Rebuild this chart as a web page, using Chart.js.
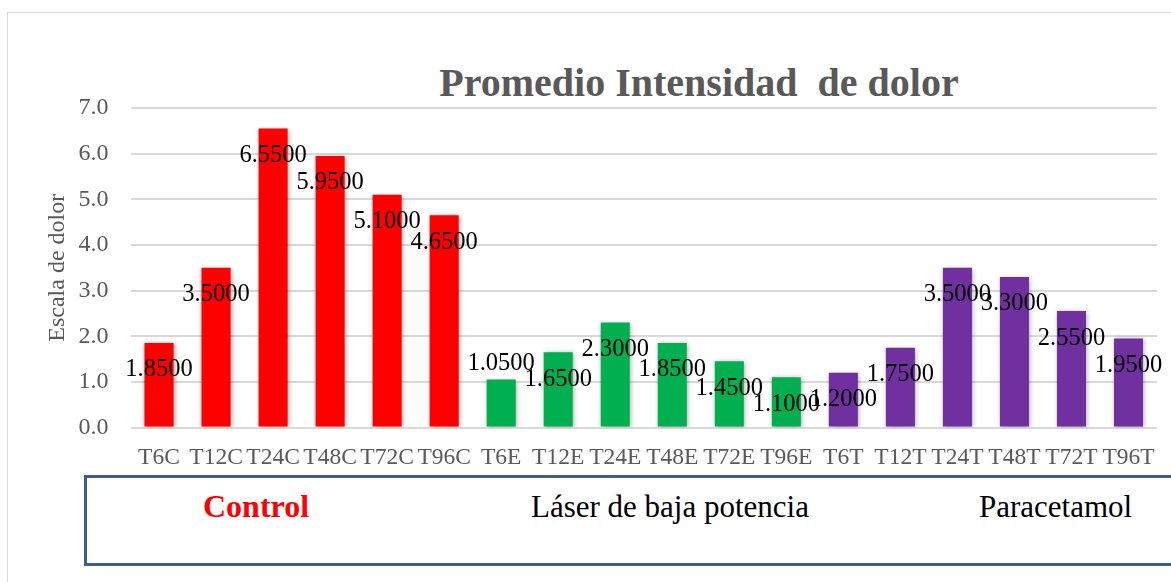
<!DOCTYPE html>
<html lang="es">
<head>
<meta charset="utf-8">
<title>Promedio Intensidad de dolor</title>
<script src="https://cdn.jsdelivr.net/npm/chart.js@4.4.1/dist/chart.umd.min.js"></script>
<style>
  html, body { margin: 0; padding: 0; background: #fff; width: 1171px; height: 582px; overflow: hidden; }
  body { position: relative; font-family: "Liberation Serif", serif; }
  #frame { position: absolute; left: 7px; top: 12px; width: 1170px; height: 600px; border: 1px solid #d9d9d9; box-sizing: border-box; }
  #wrap { position: absolute; left: 0; top: 0; width: 1171px; height: 472px; }
  #title { position: absolute; left: 0; width: 1398px; top: 59px; line-height: 48px; font-size: 40px; font-weight: bold; color: #595959; text-align: center; white-space: pre; }
  #groups { position: absolute; left: 84px; top: 475px; width: 1200px; height: 91px; border: 3px solid #3b5e8c; box-sizing: border-box; }
  .grp { position: absolute; top: 13px; line-height: 31px; font-size: 31px; color: #000; white-space: nowrap; }
  .grp.ctrl { color: #ff0000; font-weight: bold; font-size: 32px; }
</style>
</head>
<body>
<div id="frame"></div>
<div id="title">Promedio Intensidad  de dolor</div>
<div id="wrap"><canvas id="dolorChart"></canvas></div>
<div id="groups"></div>
<script>
const categorias = ['T6C', 'T12C', 'T24C', 'T48C', 'T72C', 'T96C',
                    'T6E', 'T12E', 'T24E', 'T48E', 'T72E', 'T96E',
                    'T6T', 'T12T', 'T24T', 'T48T', 'T72T', 'T96T'];
const valores = [1.85, 3.50, 6.55, 5.95, 5.10, 4.65,
                 1.05, 1.65, 2.30, 1.85, 1.45, 1.10,
                 1.20, 1.75, 3.50, 3.30, 2.55, 1.95];
const grupos = ['Control', 'Láser de baja potencia', 'Paracetamol'];
const coloresGrupo = ['#ff0000', '#00b050', '#7030a0'];
const ticksY = [0, 1, 2, 3, 4, 5, 6, 7];

const porGrupo = categorias.length / grupos.length;
const colores = categorias.map((_, i) => coloresGrupo[Math.floor(i / porGrupo)]);

// etiquetas de grupo en el recuadro inferior
const grpLeft = [116, 444, 892];
const box = document.getElementById('groups');
grupos.forEach((g, i) => {
  const el = document.createElement('div');
  el.className = 'grp' + (i === 0 ? ' ctrl' : '');
  el.style.left = grpLeft[i] + 'px';
  el.textContent = g;
  box.appendChild(el);
});

// sombra suave bajo las barras
const sombraBarras = {
  id: 'sombraBarras',
  beforeDatasetsDraw(chart) {
    const ctx = chart.ctx;
    ctx.save();
    ctx.shadowColor = 'rgba(0,0,0,0.35)';
    ctx.shadowBlur = 5;
    ctx.shadowOffsetX = 1;
    ctx.shadowOffsetY = 1;
  },
  afterDatasetsDraw(chart) {
    chart.ctx.restore();
  }
};

// valor de cada barra, un poco por debajo del extremo
const etiquetasValor = {
  id: 'etiquetasValor',
  afterDatasetsDraw(chart) {
    const ctx = chart.ctx;
    const meta = chart.getDatasetMeta(0);
    ctx.save();
    ctx.font = '24.5px "Liberation Serif"';
    ctx.fillStyle = '#000';
    ctx.textAlign = 'center';
    ctx.textBaseline = 'middle';
    meta.data.forEach((bar, i) => {
      const v = chart.data.datasets[0].data[i];
      const y = i === 6 ? bar.y - 16 : bar.y + 27;
      ctx.fillText(v.toFixed(4), bar.x, y);
    });
    ctx.restore();
  }
};

new Chart(document.getElementById('dolorChart'), {
  type: 'bar',
  data: {
    labels: categorias,
    datasets: [{
      data: valores,
      backgroundColor: colores,
      borderWidth: 0,
      barPercentage: 0.51,
      categoryPercentage: 1,
    }]
  },
  options: {
    responsive: true,
    maintainAspectRatio: false,
    animation: false,
    layout: { padding: { top: 108, right: 14, left: 0, bottom: 0 } },
    plugins: {
      legend: { display: false },
      tooltip: { enabled: false },
    },
    scales: {
      x: {
        grid: { display: false, drawTicks: false },
        border: { display: false },
        ticks: {
          color: '#595959',
          font: { family: 'Liberation Serif', size: 23.5 },
          autoSkip: false,
          maxRotation: 0,
          padding: 16,
        },
        afterFit: (s) => { s.height = 44.5; },
      },
      y: {
        min: 0,
        max: 7,
        afterBuildTicks: (s) => { s.ticks = ticksY.map(v => ({ value: v })); },
        grid: { color: '#d9d9d9', lineWidth: 2, drawTicks: false },
        border: { display: false },
        ticks: {
          color: '#595959',
          font: { family: 'Liberation Serif', size: 24 },
          padding: 22,
          callback: v => Number(v).toFixed(1),
        },
        title: {
          display: true,
          text: 'Escala de dolor',
          color: '#595959',
          font: { family: 'Liberation Serif', size: 24 },
          padding: { top: 43, bottom: 0 },
        },
        afterFit: (s) => { s.width = 130.5; },
      }
    }
  },
  plugins: [sombraBarras, etiquetasValor]
});
</script>
</body>
</html>
